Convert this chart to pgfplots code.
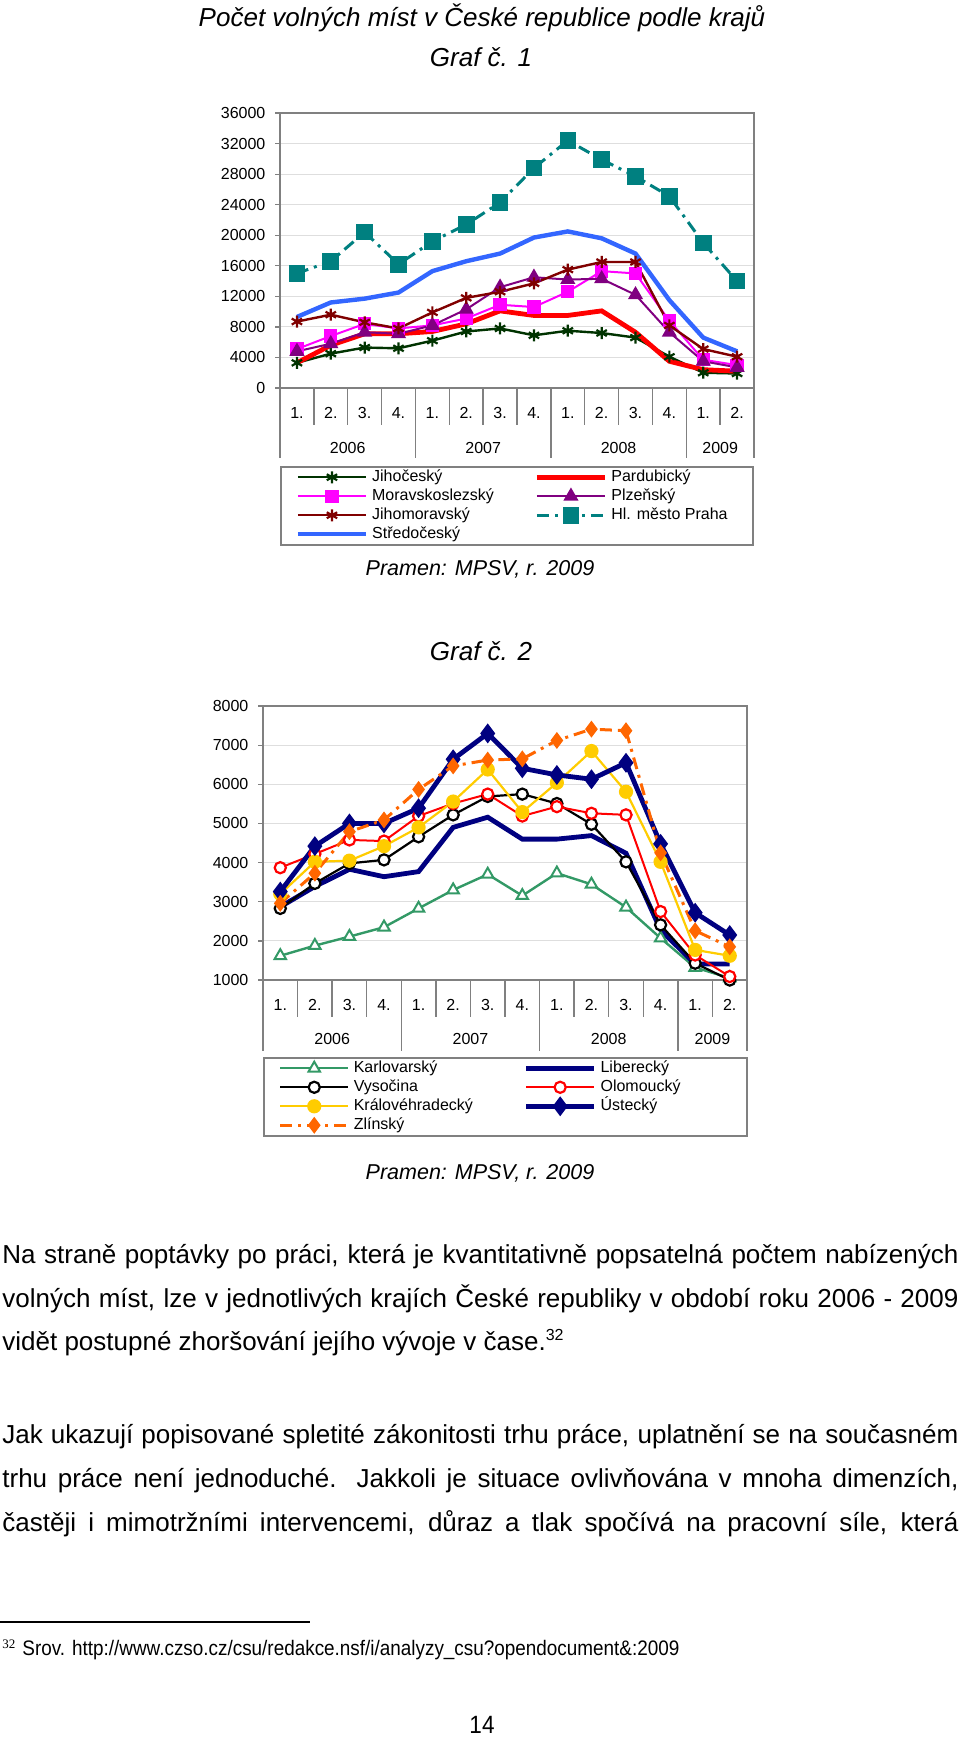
\documentclass[border=0pt]{standalone}
\usepackage{fontspec}
\setmainfont{Liberation Sans}
\newfontfamily\serifmark{Liberation Serif}
\usepackage{pgfplots}
\pgfplotsset{compat=1.18}
\definecolor{cJc}{RGB}{0,51,0}
\definecolor{cMs}{RGB}{255,0,255}
\definecolor{cJm}{RGB}{128,0,0}
\definecolor{cSc}{RGB}{51,102,255}
\definecolor{cPa}{RGB}{255,0,0}
\definecolor{cPl}{RGB}{128,0,128}
\definecolor{cPh}{RGB}{0,128,128}
\definecolor{cKv}{RGB}{51,153,102}
\definecolor{cKh}{RGB}{255,204,0}
\definecolor{cZl}{RGB}{255,102,0}
\definecolor{cNv}{RGB}{0,0,128}
\definecolor{frame}{RGB}{128,128,128}
\newcommand\cf{\fontsize{8bp}{9.5bp}\selectfont}
\newcommand\body{\fontsize{13bp}{15bp}\selectfont}
\tikzset{sepline/.style={draw=frame, line width=0.75bp}}
\pgfplotsset{
 kraj/.style={
  scale only axis, clip=false,
  xmin=0.5, xmax=14.5,
  axis line style={draw=frame, line width=0.75bp},
  ymajorgrids, grid style={draw=black!13, line width=0.5bp},
  tick align=outside, major tick length=2.5bp,
  ytick pos=left, xtick pos=bottom,
  tick style={draw=frame, line width=0.6bp},
  scaled y ticks=false,
  xtick={1,...,14},
  xticklabels={1.,2.,3.,4.,1.,2.,3.,4.,1.,2.,3.,4.,1.,2.},
  xtick style={draw=none},
  xticklabel style={anchor=center, yshift=-10bp},
  tick label style={font=\cf},
  yticklabel style={xshift=-1.3bp},
  /pgf/number format/1000 sep={},
  /pgf/number format/assume math mode=true,
  legend cell align=left,
  legend image code/.code={\draw[mark repeat=2,mark phase=2,##1] plot coordinates {(0bp,0bp) (17bp,0bp) (34bp,0bp)};},
  legend style={anchor=north west, draw=frame, line width=0.75bp, font=\cf, inner xsep=7.5bp, inner ysep=1bp, /tikz/column sep=0pt, /tikz/row sep=1bp, nodes={inner xsep=2bp, inner ysep=0pt, text height=6.5bp, text depth=2bp}},
  legend columns=2,
 },
}
\begin{document}
\begin{tikzpicture}
\begin{scope}[x=0.5bp,y=-0.5bp]
 \path[use as bounding box] (0,0) rectangle (960,1738);
 \node[anchor=base, inner sep=0pt, font=\body\itshape] at (482,26.7) {Počet volných míst v České republice podle krajů};
 \node[anchor=base, inner sep=0pt, font=\body\itshape] at (481,66.7) {Graf č. 1};
 \node[anchor=base, inner sep=0pt, font=\fontsize{10.75bp}{12bp}\selectfont\itshape] at (480,575) {Pramen: MPSV, r. 2009};
 \node[anchor=base, inner sep=0pt, font=\body\itshape] at (481,660.7) {Graf č. 2};
 \node[anchor=base, inner sep=0pt, font=\fontsize{10.75bp}{12bp}\selectfont\itshape] at (480,1179) {Pramen: MPSV, r. 2009};
 \node[anchor=base west, inner sep=0pt, font=\body] at (2,1263.3) {\makebox[478bp][s]{Na straně poptávky po práci, která je kvantitativně popsatelná počtem nabízených}};
 \node[anchor=base west, inner sep=0pt, font=\body] at (2,1307.3) {\makebox[478bp][s]{volných míst, lze v jednotlivých krajích České republiky v období roku 2006 - 2009}};
 \node[anchor=base west, inner sep=0pt, font=\body] at (2,1350.7) {vidět postupné zhoršování jejího vývoje v čase.\raisebox{5bp}{\fontsize{8bp}{9bp}\selectfont 32}};
 \node[anchor=base west, inner sep=0pt, font=\body] at (2,1443.3) {\makebox[478bp][s]{Jak ukazují popisované spletité zákonitosti trhu práce, uplatnění se na současném}};
 \node[anchor=base west, inner sep=0pt, font=\body] at (2,1487.3) {\makebox[478bp][s]{trhu práce není jednoduché. Jakkoli je situace ovlivňována v mnoha dimenzích,}};
 \node[anchor=base west, inner sep=0pt, font=\body] at (2,1531.3) {\makebox[478bp][s]{častěji i mimotržními intervencemi, důraz a tlak spočívá na pracovní síle, která}};
 \draw[line width=0.75bp] (0,1622) -- (310,1622);
 \node[anchor=base west, inner sep=0pt] at (2,1648) {\serifmark\fontsize{6.5bp}{7bp}\selectfont 32};
 \node[anchor=base west, inner sep=0pt] at (22,1655) {\scalebox{0.9}[1]{\fontsize{10.5bp}{12bp}\selectfont Srov. http://www.czso.cz/csu/redakce.nsf/i/analyzy\_csu?opendocument\&:2009}};
 \node[anchor=base, inner sep=0pt] at (482,1733) {\scalebox{0.9}[1]{\fontsize{12.5bp}{14bp}\selectfont 14}};
\end{scope}

\begin{axis}[kraj, at={(140bp,-194bp)}, anchor=south west, width=237bp, height=137.5bp,
  ymin=0, ymax=36000, ytick={0,4000,...,36000}, legend style={at={(0,-0.2836)}}]
\addplot[cJc, line width=1.2bp, mark=asterisk, mark size=3bp, mark options={solid, line width=1.1bp}] coordinates {(1,3300) (2,4500) (3,5300) (4,5200) (5,6200) (6,7400) (7,7800) (8,6900) (9,7500) (10,7200) (11,6600) (12,4100) (13,2000) (14,1900)};
\addlegendentry{\makebox[79.2bp][l]{Jihočeský}}
\addplot[cPa, line width=2.4bp, mark=none] coordinates {(1,3300) (2,5600) (3,7100) (4,7100) (5,7400) (6,8400) (7,10100) (8,9500) (9,9500) (10,10100) (11,7300) (12,3500) (13,2400) (14,2200)};
\addlegendentry{\makebox[61.2bp][l]{Pardubický}}
\addplot[cMs, line width=1bp, mark=square*, mark size=2.8bp, mark options={solid}] coordinates {(1,5100) (2,6800) (3,8400) (4,7800) (5,8200) (6,9100) (7,10900) (8,10600) (9,12600) (10,15300) (11,15000) (12,8800) (13,3700) (14,3000)};
\addlegendentry{\makebox[79.2bp][l]{Moravskoslezský}}
\addplot[cPl, line width=1bp, mark=triangle*, mark size=3.4bp, mark options={solid}] coordinates {(1,4800) (2,5800) (3,7300) (4,7100) (5,8200) (6,10300) (7,13200) (8,14500) (9,14200) (10,14300) (11,12200) (12,7300) (13,3500) (14,2700)};
\addlegendentry{\makebox[61.2bp][l]{Plzeňský}}
\addplot[cJm, line width=1.2bp, mark=asterisk, mark size=3bp, mark options={solid, line width=1.1bp}] coordinates {(1,8700) (2,9600) (3,8600) (4,7800) (5,9900) (6,11800) (7,12600) (8,13700) (9,15500) (10,16500) (11,16500) (12,8200) (13,5100) (14,4100)};
\addlegendentry{\makebox[79.2bp][l]{Jihomoravský}}
\addplot[cPh, line width=1.5bp, dash pattern=on 6bp off 3bp on 1.5bp off 3bp, mark=square*, mark size=3.4bp, mark options={solid}] coordinates {(1,15000) (2,16600) (3,20400) (4,16200) (5,19200) (6,21400) (7,24300) (8,28800) (9,32400) (10,29900) (11,27700) (12,25100) (13,19000) (14,14000)};
\addlegendentry{\makebox[61.2bp][l]{Hl. město Praha}}
\addplot[cSc, line width=2.2bp, mark=none] coordinates {(1,9300) (2,11200) (3,11700) (4,12500) (5,15300) (6,16600) (7,17600) (8,19700) (9,20500) (10,19600) (11,17600) (12,11500) (13,6600) (14,4800)};
\addlegendentry{\makebox[79.2bp][l]{Středočeský}}
\pgfplotsinvokeforeach{1.5,2.5,3.5,5.5,6.5,7.5,9.5,10.5,11.5,13.5}{\draw[sepline] (axis cs:#1,0) -- ([yshift=-18.5bp]axis cs:#1,0);}
\pgfplotsinvokeforeach{0.5,4.5,8.5,12.5,14.5}{\draw[sepline] (axis cs:#1,0) -- ([yshift=-35bp]axis cs:#1,0);}
\node[font=\cf] at (axis cs:2.5,0) [yshift=-30bp] {2006};
\node[font=\cf] at (axis cs:6.5,0) [yshift=-30bp] {2007};
\node[font=\cf] at (axis cs:10.5,0) [yshift=-30bp] {2008};
\node[font=\cf] at (axis cs:13.5,0) [yshift=-30bp] {2009};
\end{axis}

\begin{axis}[kraj, at={(131.5bp,-490bp)}, anchor=south west, width=242bp, height=137bp,
  ymin=1000, ymax=8000, ytick={1000,2000,...,8000}, legend style={at={(0,-0.281)}}]
\addplot[cKv, line width=1.2bp, mark=triangle*, mark size=3.3bp, mark options={solid, fill=white, line width=1bp}] coordinates {(1,1620) (2,1880) (3,2110) (4,2350) (5,2830) (6,3300) (7,3700) (8,3155) (9,3730) (10,3445) (11,2860) (12,2070) (13,1320) (14,1050)};
\addlegendentry{\makebox[83bp][l]{Karlovarský}}
\addplot[cNv, line width=2.4bp, mark=none] coordinates {(1,2870) (2,3390) (3,3830) (4,3640) (5,3770) (6,4900) (7,5160) (8,4600) (9,4600) (10,4690) (11,4240) (12,2280) (13,1410) (14,1410)};
\addlegendentry{\makebox[63.7bp][l]{Liberecký}}
\addplot[black, line width=1.1bp, mark=*, mark size=2.8bp, mark options={solid, fill=white, line width=1.1bp}] coordinates {(1,2830) (2,3470) (3,3980) (4,4070) (5,4660) (6,5220) (7,5690) (8,5750) (9,5510) (10,4980) (11,4020) (12,2410) (13,1430) (14,1000)};
\addlegendentry{\makebox[83bp][l]{Vysočina}}
\addplot[cPa, line width=1bp, mark=*, mark size=2.8bp, mark options={solid, fill=white, line width=1.1bp}] coordinates {(1,3870) (2,4220) (3,4580) (4,4550) (5,5190) (6,5510) (7,5750) (8,5190) (9,5430) (10,5260) (11,5220) (12,2750) (13,1640) (14,1090)};
\addlegendentry{\makebox[63.7bp][l]{Olomoucký}}
\addplot[cKh, line width=1.1bp, mark=*, mark size=3bp, mark options={solid}] coordinates {(1,3200) (2,4020) (3,4050) (4,4420) (5,4900) (6,5560) (7,6380) (8,5290) (9,6040) (10,6850) (11,5810) (12,4020) (13,1770) (14,1620)};
\addlegendentry{\makebox[83bp][l]{Královéhradecký}}
\addplot[cNv, line width=2.4bp, mark=diamond*, mark size=3bp, mark options={solid}] coordinates {(1,3260) (2,4420) (3,5000) (4,5000) (5,5390) (6,6640) (7,7300) (8,6410) (9,6240) (10,6130) (11,6550) (12,4480) (13,2720) (14,2150)};
\addlegendentry{\makebox[63.7bp][l]{Ústecký}}
\addplot[cZl, line width=1.5bp, dash pattern=on 6bp off 3bp on 1.5bp off 3bp, mark=diamond*, mark size=3bp, mark options={solid}] coordinates {(1,2960) (2,3730) (3,4790) (4,5090) (5,5870) (6,6470) (7,6620) (8,6650) (9,7120) (10,7410) (11,7370) (12,4250) (13,2260) (14,1850)};
\addlegendentry{\makebox[83bp][l]{Zlínský}}
\pgfplotsinvokeforeach{1.5,2.5,3.5,5.5,6.5,7.5,9.5,10.5,11.5,13.5}{\draw[sepline] (axis cs:#1,1000) -- ([yshift=-18.5bp]axis cs:#1,1000);}
\pgfplotsinvokeforeach{0.5,4.5,8.5,12.5,14.5}{\draw[sepline] (axis cs:#1,1000) -- ([yshift=-35.5bp]axis cs:#1,1000);}
\node[font=\cf] at (axis cs:2.5,1000) [yshift=-29.5bp] {2006};
\node[font=\cf] at (axis cs:6.5,1000) [yshift=-29.5bp] {2007};
\node[font=\cf] at (axis cs:10.5,1000) [yshift=-29.5bp] {2008};
\node[font=\cf] at (axis cs:13.5,1000) [yshift=-29.5bp] {2009};
\end{axis}
\end{tikzpicture}
\end{document}
